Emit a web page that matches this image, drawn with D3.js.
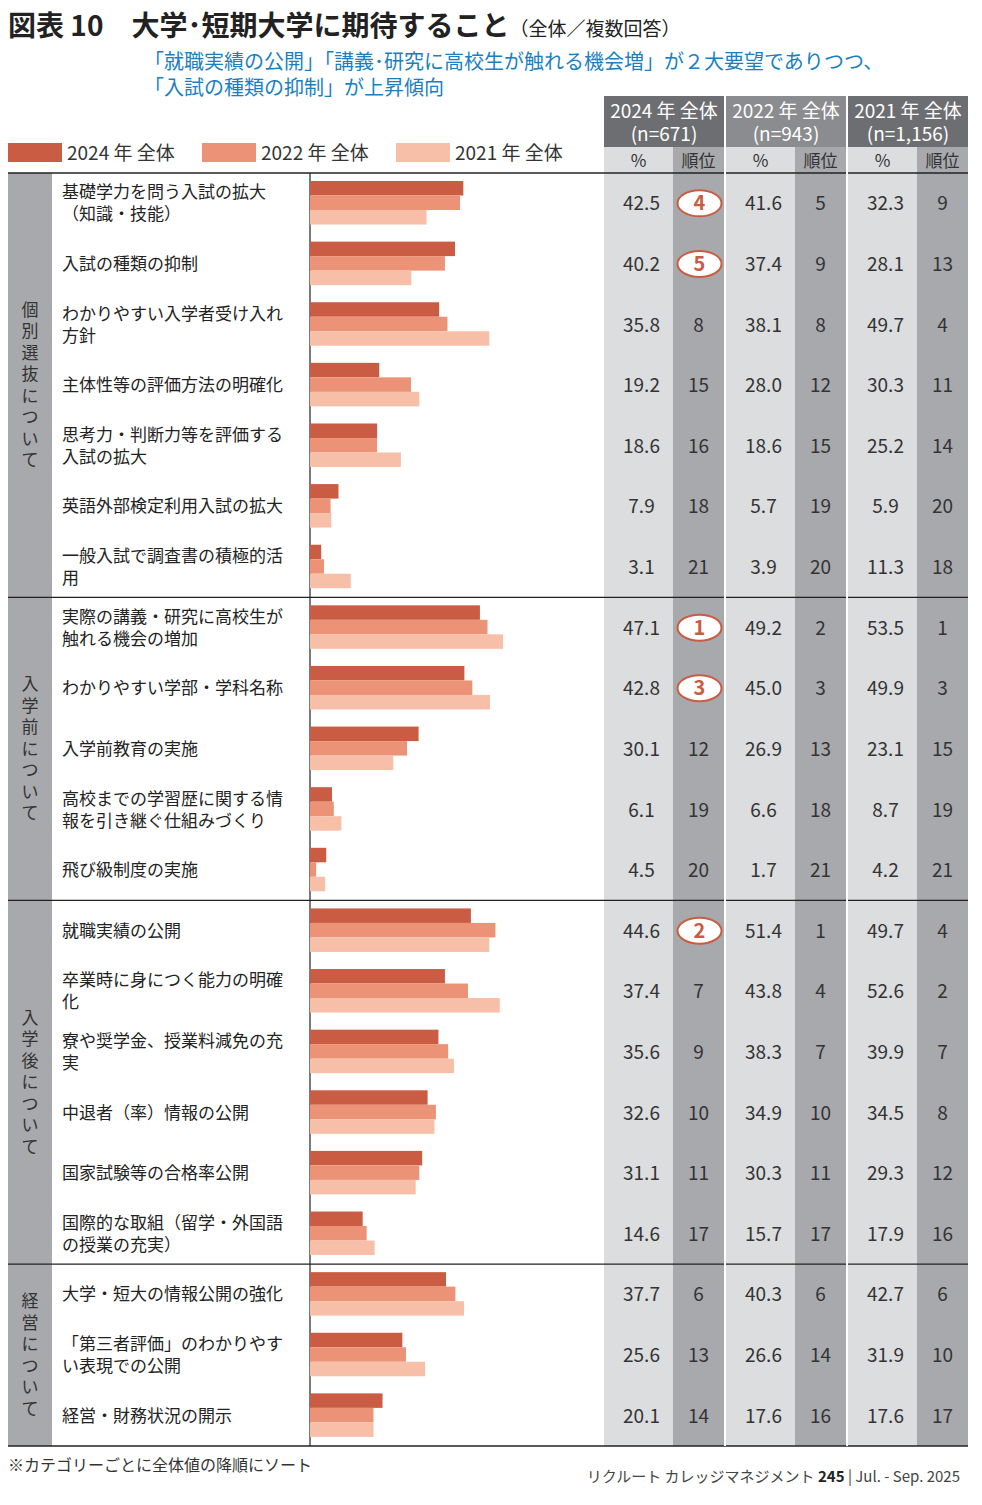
<!DOCTYPE html>
<html><head><meta charset="utf-8">
<script src="https://cdn.jsdelivr.net/npm/d3@7"></script>
<style>body{margin:0;background:#fff}svg text{font-family:"Noto Sans CJK JP","Noto Sans",sans-serif}</style>
</head><body><svg id="c" width="982" height="1505"></svg>
<script>
const labels=[["基礎学力を問う入試の拡大","（知識・技能）"],["入試の種類の抑制"],["わかりやすい入学者受け入れ","方針"],["主体性等の評価方法の明確化"],["思考力・判断力等を評価する","入試の拡大"],["英語外部検定利用入試の拡大"],["一般入試で調査書の積極的活","用"],
["実際の講義・研究に高校生が","触れる機会の増加"],["わかりやすい学部・学科名称"],["入学前教育の実施"],["高校までの学習歴に関する情","報を引き継ぐ仕組みづくり"],["飛び級制度の実施"],
["就職実績の公開"],["卒業時に身につく能力の明確","化"],["寮や奨学金、授業料減免の充","実"],["中退者（率）情報の公開"],["国家試験等の合格率公開"],["国際的な取組（留学・外国語","の授業の充実）"],
["大学・短大の情報公開の強化"],["「第三者評価」のわかりやす","い表現での公開"],["経営・財務状況の開示"]];
const v2024=[42.5,40.2,35.8,19.2,18.6,7.9,3.1,47.1,42.8,30.1,6.1,4.5,44.6,37.4,35.6,32.6,31.1,14.6,37.7,25.6,20.1];
const r2024=[4,5,8,15,16,18,21,1,3,12,19,20,2,7,9,10,11,17,6,13,14];
const v2022=[41.6,37.4,38.1,28.0,18.6,5.7,3.9,49.2,45.0,26.9,6.6,1.7,51.4,43.8,38.3,34.9,30.3,15.7,40.3,26.6,17.6];
const r2022=[5,9,8,12,15,19,20,2,3,13,18,21,1,4,7,10,11,17,6,14,16];
const v2021=[32.3,28.1,49.7,30.3,25.2,5.9,11.3,53.5,49.9,23.1,8.7,4.2,49.7,52.6,39.9,34.5,29.3,17.9,42.7,31.9,17.6];
const r2021=[9,13,4,11,14,20,18,1,3,15,19,21,4,2,7,8,12,16,6,10,17];
const groups=[["個別選抜について",0,7],["入学前について",7,12],["入学後について",12,18],["経営について",18,21]];
const seriesNames=["2024 年 全体","2022 年 全体","2021 年 全体"];
const colors=["#c95c43","#ec9276","#f8bfa8"];

const svg=d3.select("#c");
const top0=173,rowH=(1446-173)/21;
const x=d3.scaleLinear().domain([0,53.5]).range([310,503]);
const y=d3.scaleBand().domain(d3.range(21)).range([top0,top0+rowH*21]);
const cols=[[604,673,"#dcdddf"],[673,724,"#a8a9ad"],[726,795,"#dcdddf"],[795,846,"#a8a9ad"],[848,917,"#dcdddf"],[917,968,"#a8a9ad"]];
cols.forEach(c=>svg.append("rect").attr("x",c[0]).attr("y",147).attr("width",c[1]-c[0]).attr("height",1446-147).attr("fill",c[2]));
[[604,724,"#6d6e71"],[726,846,"#8b8c8f"],[848,968,"#6d6e71"]].forEach((c,i)=>{
 svg.append("rect").attr("x",c[0]).attr("y",96).attr("width",c[1]-c[0]).attr("height",51).attr("fill",c[2]);
 const yr=["2024 年 全体","2022 年 全体","2021 年 全体"][i],n=["(n=671)","(n=943)","(n=1,156)"][i];
 svg.append("text").attr("x",(c[0]+c[1])/2).attr("y",118).attr("text-anchor","middle").attr("fill","#fff").attr("font-size",19).text(yr);
 svg.append("text").attr("x",(c[0]+c[1])/2).attr("y",141).attr("text-anchor","middle").attr("fill","#fff").attr("font-size",19).text(n);
});
cols.forEach((c,i)=>svg.append("text").attr("x",(c[0]+c[1])/2).attr("y",167).attr("text-anchor","middle").attr("font-size",17).attr("fill","#333").text(i%2?"順位":"%"));
svg.append("rect").attr("x",8).attr("y",top0).attr("width",44).attr("height",1446-top0).attr("fill","#a8a9ad");
groups.forEach(g=>{
 const y0=y(g[1]),y1=y(g[2]-1)+rowH,ch=[...g[0]];
 const mid=(y0+y1)/2,step=21.5;
 ch.forEach((c,k)=>svg.append("text").attr("x",30).attr("y",mid-(ch.length-1)*step/2+k*step+6).attr("text-anchor","middle").attr("font-size",17).attr("fill","#333").text(c));
 if(g[1]>0) svg.append("line").attr("x1",8).attr("x2",968).attr("y1",y0).attr("y2",y0).attr("stroke","#222").attr("stroke-width",1.2);
});
svg.append("line").attr("x1",8).attr("x2",968).attr("y1",top0).attr("y2",top0).attr("stroke","#222").attr("stroke-width",1.5);
svg.append("line").attr("x1",8).attr("x2",968).attr("y1",1446).attr("y2",1446).attr("stroke","#222").attr("stroke-width",1.5);
svg.append("line").attr("x1",310).attr("x2",310).attr("y1",top0).attr("y2",1446).attr("stroke","#222").attr("stroke-width",1.2);
labels.forEach((l,i)=>{
 const cy=y(i)+rowH/2;
 l.forEach((t,k)=>svg.append("text").attr("x",62).attr("y",cy+6+(k-(l.length-1)/2)*22).attr("font-size",17).attr("fill","#222").text(t));
});
const bh=14.5;
[v2024,v2022,v2021].forEach((vs,s)=>svg.append("g").selectAll("rect").data(vs).join("rect")
 .attr("x",x(0)).attr("y",(d,i)=>y(i)+8+s*bh).attr("width",d=>x(d)-x(0)).attr("height",bh).attr("fill",colors[s]));
const fmt=d3.format(".1f");
[[v2024,r2024],[v2022,r2022],[v2021,r2021]].forEach((p,s)=>{
 p[0].forEach((v,i)=>{
  const cy=y(i)+rowH/2+7;
  svg.append("text").attr("x",(cols[s*2][0]+cols[s*2][1])/2+3).attr("y",cy).attr("text-anchor","middle").attr("font-size",19).attr("fill","#333").text(fmt(v));
  const rc=(cols[s*2+1][0]+cols[s*2+1][1])/2;
  const r=p[1][i];
  if(s===0&&r<=5){
   svg.append("ellipse").attr("cx",rc+1).attr("cy",cy-7).attr("rx",22).attr("ry",13).attr("fill","#fff").attr("stroke","#c95c43").attr("stroke-width",2);
   svg.append("text").attr("x",rc+1).attr("y",cy).attr("text-anchor","middle").attr("font-size",20).attr("font-weight","bold").attr("fill","#c95c43").text(r);
  } else svg.append("text").attr("x",rc).attr("y",cy).attr("text-anchor","middle").attr("font-size",19).attr("fill","#333").text(r);
 });
});
[724,846].forEach(xx=>svg.append("rect").attr("x",xx).attr("y",96).attr("width",2).attr("height",1446-96).attr("fill","#fff"));
seriesNames.forEach((n,i)=>{
 const lx=8+i*194;
 svg.append("rect").attr("x",lx).attr("y",143).attr("width",54).attr("height",19).attr("fill",colors[i]);
 svg.append("text").attr("x",lx+59).attr("y",160).attr("font-size",19).attr("fill","#333").text(n);
});
const t=svg.append("text").attr("x",8).attr("y",36).attr("fill","#222");
t.append("tspan").attr("font-size",28).attr("font-weight","bold").text("図表 10　大学･短期大学に期待すること");
t.append("tspan").attr("font-size",19).text("（全体／複数回答）");
svg.append("text").attr("x",144).attr("y",69).attr("font-size",20).attr("fill","#1a7fc1").text("「就職実績の公開」「講義･研究に高校生が触れる機会増」が２大要望でありつつ、");
svg.append("text").attr("x",144).attr("y",95).attr("font-size",20).attr("fill","#1a7fc1").text("「入試の種類の抑制」が上昇傾向");
svg.append("text").attr("x",8).attr("y",1471).attr("font-size",16).attr("fill","#333").text("※カテゴリーごとに全体値の降順にソート");
const f=svg.append("text").attr("x",960).attr("y",1482).attr("text-anchor","end").attr("font-size",15).attr("fill","#444");
f.append("tspan").text("リクルート カレッジマネジメント ");
f.append("tspan").attr("font-weight","bold").attr("fill","#222").text("245");
f.append("tspan").text("  |  Jul. - Sep. 2025");
</script></body></html>
